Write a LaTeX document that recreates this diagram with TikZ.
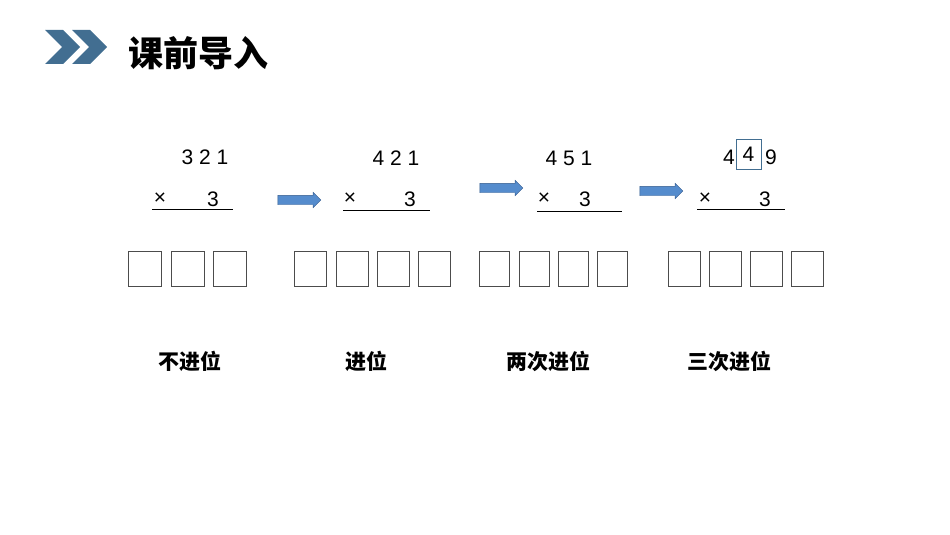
\documentclass[tikz,border=0pt]{standalone}
\usepackage{fontspec}
\setmainfont{Liberation Sans}
\newfontfamily\cjk{Noto Sans CJK SC}
\usetikzlibrary{shapes.arrows}
\begin{document}
\begin{tikzpicture}[x=1pt,y=-1pt]
  \tikzset{num/.style={font=\fontsize{21}{23}\selectfont},
    digitbox/.style={draw=black!70,line width=0.8pt,minimum width=#1,minimum height=35pt,anchor=north west,inner sep=0pt},
    bluearrow/.style={single arrow,draw={rgb,255:red,50;green,90;blue,140},fill={rgb,255:red,85;green,140;blue,205},single arrow head extend=3pt,minimum height=43pt,inner xsep=0pt,inner ysep=4.5pt},
    label/.style={font=\cjk\bfseries\fontsize{21}{23}\selectfont}}
  \useasboundingbox (0,0) rectangle (950,535);
  % header
  \fill[fill={rgb,255:red,66;green,110;blue,145}] (45,30) -- (63,30) -- (80,47) -- (63,64) -- (45,64) -- (62,47) -- cycle;
  \fill[fill={rgb,255:red,66;green,110;blue,145}] (72,30) -- (90,30) -- (107,47) -- (90,64) -- (72,64) -- (89,47) -- cycle;
  \node[font=\cjk\bfseries\fontsize{35}{37}\selectfont,anchor=west,inner sep=0pt] (title) at (128,53) {课前导入};
  % group 1
  \node[num] (a1) at (205,157) {3 2 1};
  \node[num] (x1) at (160,199) {×};
  \node[num] (t1) at (213,199) {3};
  \coordinate (l1a) at (152,209); \coordinate (l1b) at (233,209);
  \draw[line width=1pt] (l1a) -- (l1b);
  % group 2
  \node[num] (a2) at (396,158) {4 2 1};
  \node[num] (x2) at (350,199) {×};
  \node[num] (t2) at (410,199) {3};
  \coordinate (l2a) at (343,210); \coordinate (l2b) at (430,210);
  \draw[line width=1pt] (l2a) -- (l2b);
  % group 3
  \node[num] (a3) at (569,158) {4 5 1};
  \node[num] (x3) at (544,199) {×};
  \node[num] (t3) at (585,199) {3};
  \coordinate (l3a) at (537,211); \coordinate (l3b) at (622,211);
  \draw[line width=1pt] (l3a) -- (l3b);
  % group 4
  \node[num] (a4a) at (729,157) {4};
  \node[num,draw={rgb,255:red,66;green,110;blue,145},minimum width=25pt,minimum height=30pt,inner sep=0pt] (a4b) at (748.5,154) {4};
  \node[num] (a4c) at (771,157) {9};
  \node[num] (x4) at (705,199) {×};
  \node[num] (t4) at (765,199) {3};
  \coordinate (l4a) at (697,209); \coordinate (l4b) at (785,209);
  \draw[line width=1pt] (l4a) -- (l4b);
  % arrows
  \node[bluearrow] (ar1) at (297,200) {};
  \node[bluearrow] (ar2) at (499,188) {};
  \node[bluearrow] (ar3) at (659,191) {};
  % boxes
  \foreach \x [count=\i] in {128,171,213} \node[digitbox=33pt] (b1\i) at (\x,251) {};
  \foreach \x [count=\i] in {294,336,377,418} \node[digitbox=32pt] (b2\i) at (\x,251) {};
  \foreach \x [count=\i] in {479,519,558,597} \node[digitbox=30pt] (b3\i) at (\x,251) {};
  \foreach \x [count=\i] in {668,709,750,791} \node[digitbox=32pt] (b4\i) at (\x,251) {};
  % labels
  \node[label] (n1) at (190,361) {不进位};
  \node[label] (n2) at (366,361) {进位};
  \node[label] (n3) at (548,361) {两次进位};
  \node[label] (n4) at (729,361) {三次进位};
\end{tikzpicture}
\end{document}
